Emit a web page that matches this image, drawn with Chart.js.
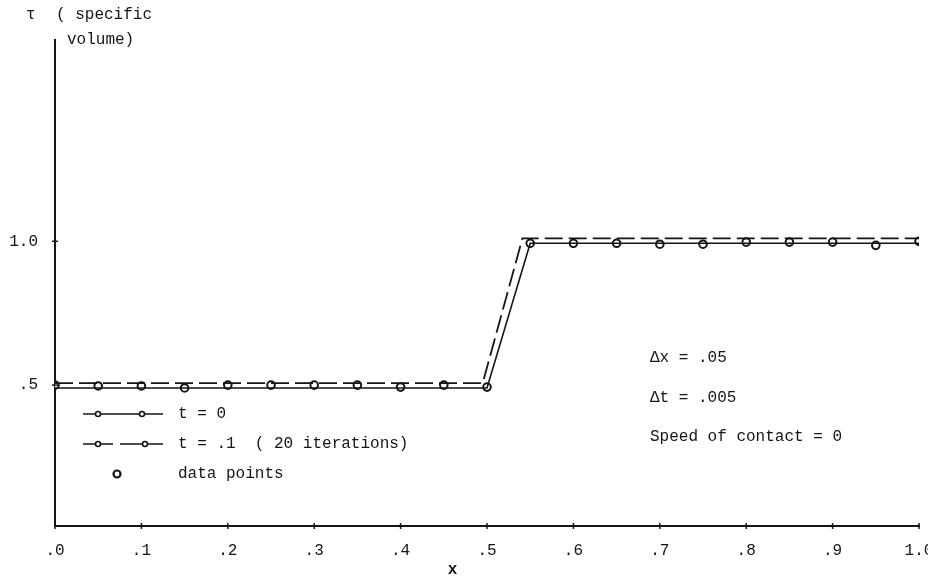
<!doctype html>
<html>
  <head>
    <meta charset="utf-8" />
    <title>Specific volume</title>
    <script src="https://cdn.jsdelivr.net/npm/chart.js@4/dist/chart.umd.min.js"></script>
    <style>
      html, body { margin: 0; padding: 0; background: #fff; }
    </style>
    <script>
      // tick positions and labels, typed as on the original sheet
      const xTicks = [0, 0.1, 0.2, 0.3, 0.4, 0.5, 0.6, 0.7, 0.8, 0.9, 1.0];
      const xTickLabels = [".0", ".1", ".2", ".3", ".4", ".5", ".6", ".7", ".8", ".9", "1.0"];
      const yTicks = [0.5, 1.0];
      const yTickLabels = [".5", "1.0"];

      // t = 0 (solid)
      const initX = [0, 0.5, 0.55, 1.0];
      const initTau = [0.49, 0.49, 0.993, 0.993];

      // t = .1, 20 iterations (dashed)
      const laterX = [0, 0.495, 0.541, 1.0];
      const laterTau = [0.507, 0.507, 1.01, 1.01];

      // data points
      const pointX = [0, 0.05, 0.1, 0.15, 0.2, 0.25, 0.3, 0.35, 0.4, 0.45, 0.5,
                      0.55, 0.6, 0.65, 0.7, 0.75, 0.8, 0.85, 0.9, 0.95, 1.0];
      const pointTau = [0.5, 0.497, 0.497, 0.49, 0.5, 0.5, 0.5, 0.5, 0.493, 0.5, 0.493,
                        0.993, 0.993, 0.993, 0.99, 0.99, 0.997, 0.997, 0.997, 0.986, 1.0];

      const ink = "#151515";
      const mono = "'Liberation Mono', 'DejaVu Sans Mono', monospace";

      function pairs(xs, ys) {
        return xs.map((x, i) => ({ x: x, y: ys[i] }));
      }

      // small crosses on the axes and all the typed text
      const typewriter = {
        id: "typewriter",
        afterDraw(chart) {
          const ctx = chart.ctx;
          const xs = chart.scales.x;
          const ys = chart.scales.y;
          const area = chart.chartArea;
          ctx.save();
          ctx.strokeStyle = ink;
          ctx.lineWidth = 1.5;
          xTicks.forEach((v) => {
            const px = xs.getPixelForValue(v);
            ctx.beginPath();
            ctx.moveTo(px, area.bottom - 3);
            ctx.lineTo(px, area.bottom + 3);
            ctx.stroke();
          });
          yTicks.forEach((v) => {
            const py = ys.getPixelForValue(v);
            ctx.beginPath();
            ctx.moveTo(area.left - 3, py);
            ctx.lineTo(area.left + 3, py);
            ctx.stroke();
          });

          ctx.fillStyle = ink;
          ctx.font = "16px " + mono;
          ctx.textBaseline = "middle";
          ctx.textAlign = "left";
          ctx.fillText("\u03c4", 26, 15);
          ctx.fillText("( specific", 56, 15);
          ctx.fillText("volume)", 67, 40);

          ctx.fillText("\u0394x = .05", 650, 358);
          ctx.fillText("\u0394t = .005", 650, 398);
          ctx.fillText("Speed of contact = 0", 650, 437);

          // legend
          const rows = [414, 444, 474];
          ctx.lineWidth = 1.6;
          ctx.beginPath();
          ctx.moveTo(83, rows[0]);
          ctx.lineTo(163, rows[0]);
          ctx.stroke();
          ctx.beginPath();
          ctx.moveTo(83, rows[1]);
          ctx.lineTo(113, rows[1]);
          ctx.moveTo(120, rows[1]);
          ctx.lineTo(163, rows[1]);
          ctx.stroke();
          const marks = [[98, rows[0], 2.5], [142, rows[0], 2.5], [98, rows[1], 2.5], [145, rows[1], 2.5], [117, rows[2], 3.5]];
          marks.forEach((m) => {
            ctx.beginPath();
            ctx.arc(m[0], m[1], m[2], 0, Math.PI * 2);
            ctx.fillStyle = "#fff";
            ctx.fill();
            ctx.lineWidth = m[2] > 3 ? 2.2 : 1.6;
            ctx.stroke();
          });
          ctx.fillStyle = ink;
          ctx.fillText("t = 0", 178, rows[0]);
          ctx.fillText("t = .1  ( 20 iterations)", 178, rows[1]);
          ctx.fillText("data points", 178, rows[2]);

          ctx.font = "bold 16px " + mono;
          ctx.textAlign = "center";
          ctx.fillText("x", xs.getPixelForValue(0.46), 570);
          ctx.restore();
        },
      };

      document.addEventListener("DOMContentLoaded", iniciar);

      function iniciar() {
        const canvas = document.getElementById("chart");
        new Chart(canvas, {
          type: "scatter",
          data: {
            datasets: [
              {
                data: pairs(initX, initTau),
                showLine: true,
                borderColor: ink,
                borderWidth: 1.6,
                pointRadius: 0,
              },
              {
                data: pairs(laterX, laterTau),
                showLine: true,
                borderColor: ink,
                borderWidth: 1.8,
                borderDash: [18, 6],
                pointRadius: 0,
              },
              {
                data: pairs(pointX, pointTau),
                showLine: false,
                pointRadius: 3.8,
                pointBackgroundColor: "#fff",
                pointBorderColor: ink,
                pointBorderWidth: 2,
              },
            ],
          },
          options: {
            responsive: false,
            animation: false,
            layout: { padding: { top: 40, right: 9, left: 0, bottom: 0 } },
            plugins: { legend: { display: false }, tooltip: { enabled: false } },
            scales: {
              x: {
                type: "linear",
                min: 0,
                max: 1.0,
                afterBuildTicks: (scale) => {
                  scale.ticks = xTicks.map((v) => ({ value: v }));
                },
                afterFit: (scale) => {
                  scale.height = 51;
                  scale.paddingLeft = 0;
                  scale.paddingRight = 0;
                },
                ticks: {
                  callback: (v, i) => xTickLabels[i],
                  font: { family: mono, size: 16 },
                  color: ink,
                  padding: 15,
                  maxRotation: 0,
                  autoSkip: false,
                },
                grid: { drawOnChartArea: false, drawTicks: false },
                border: { color: ink, width: 2 },
              },
              y: {
                type: "linear",
                min: 0.01,
                max: 1.7,
                afterBuildTicks: (scale) => {
                  scale.ticks = yTicks.map((v) => ({ value: v }));
                },
                afterFit: (scale) => {
                  scale.width = 55;
                  scale.paddingTop = 0;
                  scale.paddingBottom = 0;
                },
                ticks: {
                  callback: (v, i) => yTickLabels[i],
                  font: { family: mono, size: 16 },
                  color: ink,
                  padding: 17,
                },
                grid: { drawOnChartArea: false, drawTicks: false },
                border: { color: ink, width: 2 },
              },
            },
          },
          plugins: [typewriter],
        });
      }
    </script>
  </head>
  <body>
    <canvas id="chart" width="928" height="577"></canvas>
  </body>
</html>
